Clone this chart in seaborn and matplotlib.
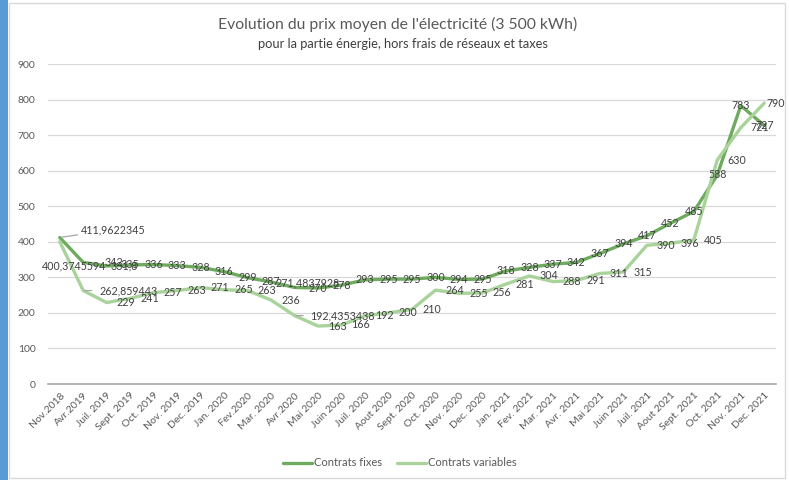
import matplotlib
matplotlib.use("Agg")
import matplotlib.pyplot as plt
from matplotlib.patches import Rectangle
import numpy as np
import pandas as pd
import seaborn as sns

# --- data -------------------------------------------------------------
mois = ["Nov.2018", "Avr.2019", "Juil. 2019", "Sept. 2019", "Oct. 2019",
        "Nov. 2019", "Dec. 2019", "Jan. 2020", "Fev.2020", "Mar. 2020",
        "Avr.2020", "Mai 2020", "Juin 2020", "Juil. 2020", "Aout 2020",
        "Sept. 2020", "Oct. 2020", "Nov. 2020", "Dec. 2020", "Jan. 2021",
        "Fev. 2021", "Mar. 2021", "Avr. 2021", "Mai 2021", "Juin 2021",
        "Juil. 2021", "Aout 2021", "Sept. 2021", "Oct. 2021", "Nov. 2021",
        "Dec. 2021"]

fixes = [411.9622345, 342, 331.8, 335, 336, 333, 328, 316, 299, 287,
         271.4837928, 270, 278, 293, 295, 295, 300, 294, 295, 318,
         328, 337, 342, 367, 394, 417, 452, 485, 588, 783, 727]

variables = [400.3745594, 262.859443, 229, 241, 257, 263, 271, 265, 263, 236,
             192.4353438, 163, 166, 192, 200, 210, 264, 255, 256, 281,
             304, 288, 291, 311, 315, 390, 396, 405, 630, 721, 790]

series = ["Contrats fixes", "Contrats variables"]
y_ticks = [0, 100, 200, 300, 400, 500, 600, 700, 800, 900]

titre = "Evolution du prix moyen de l'électricité (3 500 kWh)"
sous_titre = "pour la partie énergie, hors frais de réseaux et taxes"

# --- style ------------------------------------------------------------
sns.set_theme(style="white")
plt.rcParams["font.family"] = ["Lato", "DejaVu Sans"]

C_FIX = "#6eab5e"
C_VAR = "#a9d39a"
C_TXT = "#404040"
C_TICK = "#595959"

W, H = 789, 480
fig = plt.figure(figsize=(W / 100, H / 100), dpi=100)
fig.patch.set_facecolor("white")

# side band and chart frame (kept behind the axes)
fig.patches.append(Rectangle((0, 0), 8 / W, 1, transform=fig.transFigure,
                             facecolor="#5b9bd5", edgecolor="none", zorder=-10))
fig.patches.append(Rectangle((9 / W, 2 / H), 776 / W, 475 / H,
                             transform=fig.transFigure, facecolor="none",
                             edgecolor="#d9d9d9", linewidth=1.0, zorder=-10))

ax = fig.add_axes([48 / W, 1 - 384 / H, 728 / W, 320 / H])
ax.set_facecolor("none")

df = pd.DataFrame({
    "x": list(range(len(mois))) * 2,
    "prix": fixes + variables,
    "contrat": [series[0]] * len(mois) + [series[1]] * len(mois),
})

sns.lineplot(data=df, x="x", y="prix", hue="contrat", hue_order=series,
             palette=[C_FIX, C_VAR], linewidth=2.4, ax=ax, sort=False,
             legend=True)

ax.set_xlim(-0.5, len(mois) - 0.5)
ax.set_ylim(0, 900)
ax.set_yticks(y_ticks)
ax.set_yticklabels([str(t) for t in y_ticks])
ax.set_xticks(range(len(mois)))
ax.set_xticklabels(mois, rotation=45, ha="right", rotation_mode="anchor")
ax.tick_params(axis="both", length=0, labelsize=7.5, labelcolor=C_TICK)
ax.tick_params(axis="x", pad=5)
ax.tick_params(axis="y", pad=9)
ax.set_xlabel("")
ax.set_ylabel("")
ax.grid(axis="y", color="#d9d9d9", linewidth=0.9)
ax.set_axisbelow(True)
for s in ["top", "right", "left"]:
    ax.spines[s].set_visible(False)
ax.spines["bottom"].set_color("#a6a6a6")
ax.spines["bottom"].set_linewidth(1.2)

# --- data labels ------------------------------------------------------
def fmt(v):
    if float(v).is_integer():
        return str(int(v))
    return f"{v}".replace(".", ",")

PX = 0.72  # pixels -> points
FS = 7.7

# labels of fixed contracts sit on the points
fix_offsets = {1: (31, 0), 2: (17, 0), 10: (13, -5)}
for i, v in enumerate(fixes):
    if i == 0:
        continue
    dx, dy = fix_offsets.get(i, (0, 0))
    ax.annotate(fmt(v), (i, v), xytext=(dx * PX, -dy * PX),
                textcoords="offset points", ha="center", va="center",
                fontsize=FS, color=C_TXT, zorder=5)

# first fixed point: label pulled out with a leader line
ax.annotate(fmt(fixes[0]), (0, fixes[0]), xytext=(21 * PX, 8 * PX),
            textcoords="offset points", ha="left", va="center",
            fontsize=FS, color=C_TXT, zorder=5,
            arrowprops=dict(arrowstyle="-", color="#a6a6a6", lw=0.9,
                            shrinkA=0, shrinkB=1))

# labels of variable contracts sit to the right of the points
var_leader = {1: 16, 10: 16}
var_dx = {len(variables) - 1: 2}
for i, v in enumerate(variables):
    if i == 0:
        ax.annotate(fmt(v), (i, v), xytext=(-18 * PX, -24 * PX),
                    textcoords="offset points", ha="left", va="center",
                    fontsize=FS, color=C_TXT, zorder=5)
        continue
    if i in var_leader:
        ax.annotate(fmt(v), (i, v), xytext=(var_leader[i] * PX, 0),
                    textcoords="offset points", ha="left", va="center",
                    fontsize=FS, color=C_TXT, zorder=5,
                    arrowprops=dict(arrowstyle="-", color="#a6a6a6", lw=0.9,
                                    shrinkA=3, shrinkB=1))
        continue
    ax.annotate(fmt(v), (i, v), xytext=(var_dx.get(i, 10) * PX, 0),
                textcoords="offset points", ha="left", va="center",
                fontsize=FS, color=C_TXT, zorder=5)

# --- titles and legend ------------------------------------------------
fig.text(398 / W, 1 - 24 / H, titre, ha="center", va="center",
         fontsize=11.3, color=C_TICK)
fig.text(403 / W, 1 - 44 / H, sous_titre, ha="center", va="center",
         fontsize=9.3, color=C_TXT)

handles, labels = ax.get_legend_handles_labels()
ax.get_legend().remove()
leg = fig.legend(handles, labels, loc="center", bbox_to_anchor=(400 / W, 1 - 463 / H),
                 ncol=2, frameon=False, fontsize=8, handlelength=2.6,
                 handletextpad=0.15, columnspacing=1.4)
for t in leg.get_texts():
    t.set_color(C_TICK)

fig.savefig("out.png", dpi=100, facecolor="white")
